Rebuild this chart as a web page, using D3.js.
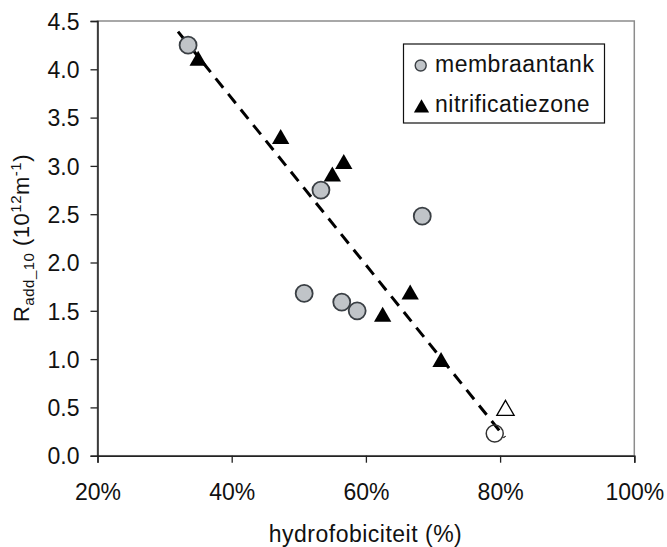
<!DOCTYPE html>
<html>
<head>
<meta charset="utf-8">
<script src="https://cdn.jsdelivr.net/npm/d3@7"></script>
<style>
  html, body { margin: 0; padding: 0; background: #fff; }
  svg { display: block; font-family: "Liberation Sans", Arial, sans-serif; }
</style>
</head>
<body>
<svg id="chart" width="667" height="547"></svg>
<script>
// Hydrophobicity (%) versus added resistance R_add_10 (10^12 m^-1)
const membraanX = [33.5, 53.3, 68.4, 50.8, 56.4, 58.7];
const membraanY = [4.25, 2.75, 2.48, 1.68, 1.59, 1.50];
const membraanOpenX = [79.2];
const membraanOpenY = [0.23];

const nitriX = [35.0, 47.3, 55.0, 56.7, 62.5, 66.6, 71.2];
const nitriY = [4.10, 3.29, 2.90, 3.03, 1.45, 1.68, 0.98];
const nitriOpenX = [80.8];
const nitriOpenY = [0.48];

// Linear trend line endpoints
const trendX = [32.0, 80.7];
const trendY = [4.39, 0.19];

const xTicks = [20, 40, 60, 80, 100];
const yTicks = [0, 0.5, 1.0, 1.5, 2.0, 2.5, 3.0, 3.5, 4.0, 4.5];
const seriesNames = ["membraantank", "nitrificatiezone"];

const svg = d3.select("#chart");
const plotL = 97.5, plotR = 634.3, plotT = 21, plotB = 455.7;

const x = d3.scaleLinear().domain([20, 100]).range([plotL, plotR]);
const y = d3.scaleLinear().domain([0, 4.5]).range([plotB, plotT]);

// Plot area frame (top and right edges in gray)
svg.append("rect")
  .attr("x", plotL).attr("y", plotT)
  .attr("width", plotR - plotL).attr("height", plotB - plotT)
  .attr("fill", "none").attr("stroke", "#8c8c8c").attr("stroke-width", 1.5);

// Axes
const yAxis = svg.append("g")
  .attr("transform", `translate(${plotL},0)`)
  .call(d3.axisLeft(y).tickValues(yTicks).tickSize(7)
    .tickFormat(d3.format(".1f")));
const xAxis = svg.append("g")
  .attr("transform", `translate(0,${plotB})`)
  .call(d3.axisBottom(x).tickValues(xTicks).tickSize(7)
    .tickFormat(d => d + "%"));
[xAxis, yAxis].forEach(g => {
  g.select(".domain").attr("stroke", "#222").attr("stroke-width", 1.5);
  g.selectAll(".tick line").attr("stroke", "#222").attr("stroke-width", 1.3);
  g.selectAll("text").attr("fill", "#111").style("font-size", "23px")
    .style("font-family", "Liberation Sans, Arial, sans-serif");
});
yAxis.selectAll(".tick text").attr("x", -18).attr("dy", "0.36em");
xAxis.selectAll(".tick text").attr("y", 44).attr("dy", 0);

// Trend line
svg.append("line")
  .attr("x1", x(trendX[0])).attr("y1", y(trendY[0]))
  .attr("x2", x(trendX[1])).attr("y2", y(trendY[1]))
  .attr("stroke", "#000").attr("stroke-width", 3)
  .attr("stroke-dasharray", "12,8");

const tri = d3.symbol().type(d3.symbolTriangle).size(130);

// Open markers
svg.selectAll(".mo").data(membraanOpenX).join("circle")
  .attr("cx", (d) => x(d)).attr("cy", (d, i) => y(membraanOpenY[i]))
  .attr("r", 8.5).attr("fill", "none").attr("stroke", "#333").attr("stroke-width", 1.5);
svg.selectAll(".no").data(nitriOpenX).join("path")
  .attr("d", tri)
  .attr("transform", (d, i) => `translate(${x(d)},${y(nitriOpenY[i]) + 1})`)
  .attr("fill", "none").attr("stroke", "#000").attr("stroke-width", 1.3);

// Filled markers
svg.selectAll(".m").data(membraanX).join("circle")
  .attr("cx", (d) => x(d)).attr("cy", (d, i) => y(membraanY[i]))
  .attr("r", 8.5).attr("fill", "#c0c4c8").attr("stroke", "#3a3f44").attr("stroke-width", 1.8);
svg.selectAll(".n").data(nitriX).join("path")
  .attr("d", tri)
  .attr("transform", (d, i) => `translate(${x(d)},${y(nitriY[i]) + 1})`)
  .attr("fill", "#000");

// Legend
const lg = svg.append("g");
lg.append("rect").attr("x", 403.5).attr("y", 44).attr("width", 201).attr("height", 79)
  .attr("fill", "#fff").attr("stroke", "#111").attr("stroke-width", 1.2);
lg.append("circle").attr("cx", 420.7).attr("cy", 65.5).attr("r", 5.5)
  .attr("fill", "#c0c4c8").attr("stroke", "#3a3f44").attr("stroke-width", 1.4);
lg.append("path").attr("d", d3.symbol().type(d3.symbolTriangle).size(100))
  .attr("transform", "translate(421.5,108)").attr("fill", "#000");
lg.selectAll("text").data(seriesNames).join("text")
  .attr("x", 435).attr("y", (d, i) => 72 + i * 40)
  .style("font-size", "23px").style("letter-spacing", "0.5px")
  .attr("fill", "#111").text(d => d);

// Axis titles
svg.append("text")
  .attr("x", 365.5).attr("y", 542)
  .attr("text-anchor", "middle").style("font-size", "23px").style("letter-spacing", "0.5px")
  .attr("fill", "#111")
  .text("hydrofobiciteit (%)");

const yt = svg.append("text")
  .attr("transform", "translate(29,238) rotate(-90)")
  .attr("text-anchor", "middle").style("font-size", "22px").style("letter-spacing", "0.5px")
  .attr("fill", "#111");
yt.append("tspan").text("R");
yt.append("tspan").attr("dy", 5).style("font-size", "15px").text("add_10");
yt.append("tspan").attr("dy", -5).text(" (10");
yt.append("tspan").attr("dy", -8).style("font-size", "15px").text("12");
yt.append("tspan").attr("dy", 8).text("m");
yt.append("tspan").attr("dy", -8).style("font-size", "15px").text("-1");
yt.append("tspan").attr("dy", 8).text(")");
</script>
</body>
</html>
